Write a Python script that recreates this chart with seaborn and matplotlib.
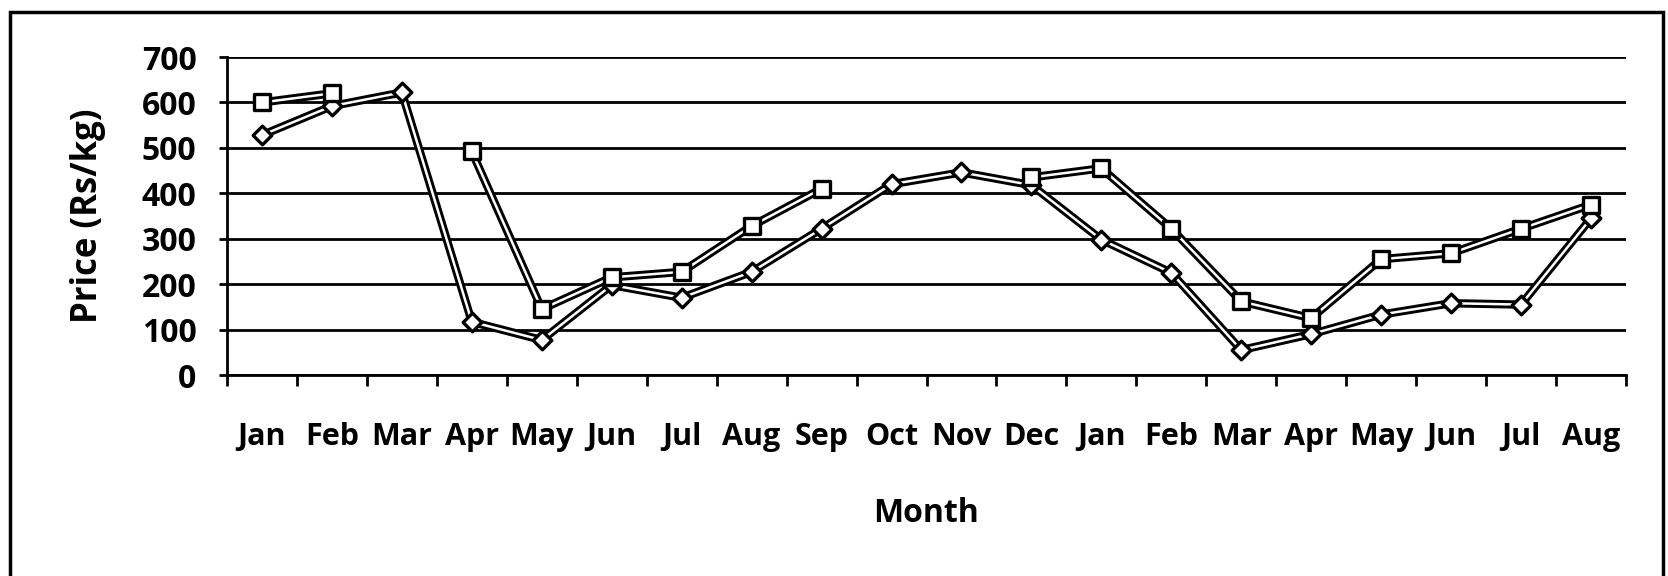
import numpy as np
import pandas as pd
import matplotlib
matplotlib.use("Agg")
import matplotlib.pyplot as plt
import seaborn as sns
from matplotlib.patches import Rectangle

# ---- data ----
months = ["Jan", "Feb", "Mar", "Apr", "May", "Jun", "Jul", "Aug", "Sep", "Oct",
          "Nov", "Dec", "Jan", "Feb", "Mar", "Apr", "May", "Jun", "Jul", "Aug"]
series_square = [600, 620, np.nan, 492, 145, 215, 227, 328, 410, np.nan,
                 np.nan, 435, 455, 322, 162, 125, 255, 268, 322, 375]
series_diamond = [528, 592, 622, 117, 77, 198, 170, 227, 322, 420,
                  446, 418, 298, 225, 55, 90, 133, 158, 155, 345]
y_ticks = [0, 100, 200, 300, 400, 500, 600, 700]


def to_long(values, name):
    rows = []
    seg = 0
    prev_nan = True
    for i, v in enumerate(values):
        if np.isnan(v):
            prev_nan = True
            continue
        if prev_nan:
            seg += 1
        prev_nan = False
        rows.append({"x": i, "price": v, "series": name, "seg": seg})
    return pd.DataFrame(rows)


df_sq = to_long(series_square, "square")
df_di = to_long(series_diamond, "diamond")

sns.set_theme(style="white")
plt.rcParams["font.family"] = ["Open Sans", "DejaVu Sans"]

fig = plt.figure(figsize=(16.68, 5.76), dpi=100)
ax = fig.add_axes([227 / 1668, 1 - 375 / 576, (1626 - 227) / 1668, (375 - 57) / 576])

for d in (df_di, df_sq):
    sns.lineplot(data=d, x="x", y="price", units="seg", estimator=None, sort=False,
                 color="black", lw=6, ax=ax, legend=False, zorder=3)
    sns.lineplot(data=d, x="x", y="price", units="seg", estimator=None, sort=False,
                 color="white", lw=1.8, ax=ax, legend=False, zorder=4)

sns.scatterplot(data=df_di, x="x", y="price", marker="D", s=90, color="white",
                edgecolor="black", linewidth=2.4, ax=ax, legend=False, zorder=5)
sns.scatterplot(data=df_sq, x="x", y="price", marker="s", s=120, color="white",
                edgecolor="black", linewidth=2.4, ax=ax, legend=False, zorder=6)

ax.set_xlim(-0.5, len(months) - 0.5)
ax.set_ylim(0, 700)
ax.set_yticks(y_ticks)
ax.set_yticklabels([str(v) for v in y_ticks])
ax.set_xticks(np.arange(len(months)))
ax.set_xticklabels(months)
ax.set_xticks(np.arange(len(months) + 1) - 0.5, minor=True)

ax.yaxis.grid(True, color="black", lw=2)
ax.xaxis.grid(False)
ax.set_axisbelow(True)
for s in ["top", "right"]:
    ax.spines[s].set_visible(False)
for s in ["left", "bottom"]:
    ax.spines[s].set_color("black")
    ax.spines[s].set_linewidth(2)

ax.tick_params(axis="x", which="major", length=0, pad=34, labelsize=22)
ax.tick_params(axis="x", which="minor", length=8, width=2, color="black", direction="out",
               bottom=True)
ax.tick_params(axis="y", length=6, width=2, color="black", direction="out", left=True,
               labelsize=23, pad=16)
for lab in ax.get_xticklabels() + ax.get_yticklabels():
    lab.set_fontweight("bold")
    lab.set_color("black")

ax.set_xlabel("Month", fontsize=23, fontweight="bold", color="black")
ax.set_ylabel("Price (Rs/kg)", fontsize=25, fontweight="bold", color="black")
ax.xaxis.label.set_verticalalignment("center")
ax.xaxis.set_label_coords(0.5, (375 - 513) / 318)
ax.yaxis.label.set_verticalalignment("center")
ax.yaxis.set_label_coords((88 - 227) / 1399, 0.5)

fig.patches.append(Rectangle((10 / 1668, -0.02), (1663 - 10) / 1668, 1.02 - 12 / 576,
                             transform=fig.transFigure, fill=False, edgecolor="black",
                             lw=2.5))

fig.savefig("out.png", dpi=100, facecolor="white")
